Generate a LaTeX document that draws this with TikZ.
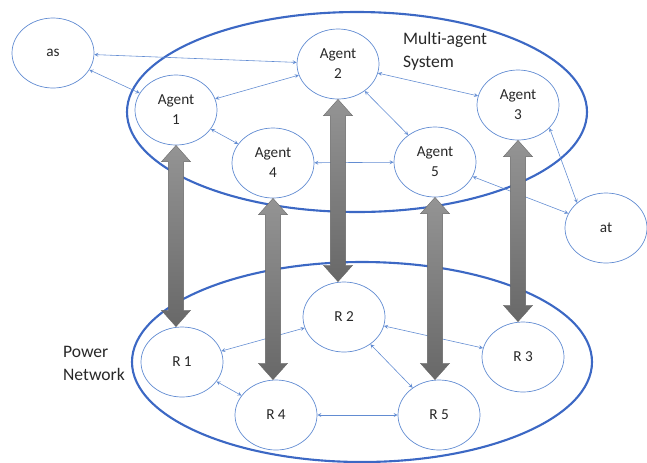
\documentclass[tikz,border=0pt]{standalone}
\usepackage{fontspec}
\setmainfont[Ligatures={NoCommon}]{Carlito}
\usepackage{tikz}
\usetikzlibrary{arrows,positioning,shapes.geometric,calc}
\definecolor{ringblue}{RGB}{60,104,196}
\definecolor{linkblue}{RGB}{98,140,210}
\definecolor{barlight}{RGB}{148,148,148}
\definecolor{bardark}{RGB}{104,104,104}
\definecolor{labelgray}{RGB}{40,40,40}
% thick grey coupling arrow between an agent and its resource
\newcommand{\powerlink}[2]{%
  \shade[top color=barlight,bottom color=bardark,draw=gray!80!black,line width=0.3pt]
    let \p1=(#1.south), \p2=(#2.north) in
    (\x1,\y1) -- (\x1+12.5pt,\y1-14pt) -- (\x1+6.5pt,\y1-14pt)
    -- (\x1+6.5pt,\y2+14pt) -- (\x1+12.5pt,\y2+14pt) -- (\x1,\y2)
    -- (\x1-12.5pt,\y2+14pt) -- (\x1-6.5pt,\y2+14pt)
    -- (\x1-6.5pt,\y1-14pt) -- (\x1-12.5pt,\y1-14pt) -- cycle;}

\begin{document}
\begin{tikzpicture}[x=0.03cm,y=-0.03cm]
  \tikzset{>=stealth}
  \tikzset{unit/.style={ellipse,draw=linkblue,line width=0.6pt,inner sep=0pt,
      minimum width=2.46cm,minimum height=2.1cm,align=center,
      text=labelgray,font=\fontsize{13}{17}\selectfont},
    link/.style={<->,draw=linkblue,line width=0.5pt},
    ring/.style={draw=ringblue,line width=1.8pt},
    title/.style={text=labelgray,font=\fontsize{15}{19.5}\selectfont,
      align=left,anchor=west}}
  \useasboundingbox (0,0) rectangle (647,462);

  \draw[ring] (357,112) ellipse [x radius=230,y radius=100];
  \draw[ring] (362,362) ellipse [x radius=230,y radius=100];

  \node[title] (masname) at (399,51) {Multi-agent\\System};
  \node[title] (pnname) at (59,363) {Power\\Network};

  \node[unit] (as) at (53,53) {as};
  \node[unit] (agent1) at (176,110) {Agent\\1}
    edge[link] (as);
  \node[unit] (agent2) at (338,64) {Agent\\2}
    edge[link] (as)
    edge[link] (agent1);
  \node[unit] (agent4) at (273,163) {Agent\\4}
    edge[link] (agent1);
  \node[unit] (agent5) at (435,162) {Agent\\5}
    edge[link] (agent4)
    edge[link] (agent2);
  \node[unit] (agent3) at (518,105) {Agent\\3}
    edge[link] (agent2);
  \node[unit] (at) at (606,228) {at}
    edge[link] (agent5);
  \draw[link] (agent3.-36) -- (at.139);

  \node[unit] (r1) at (182,362) {R 1};
  \node[unit] (r2) at (344,317) {R 2}
    edge[link] (r1);
  \node[unit] (r4) at (276,415) {R 4}
    edge[link] (r1);
  \node[unit] (r5) at (439,415) {R 5}
    edge[link] (r4)
    edge[link] (r2);
  \node[unit] (r3) at (523,357) {R 3}
    edge[link] (r2);

  \powerlink{agent1}{r1}
  \powerlink{agent4}{r4}
  \powerlink{agent2}{r2}
  \powerlink{agent5}{r5}
  \powerlink{agent3}{r3}
\end{tikzpicture}
\end{document}
